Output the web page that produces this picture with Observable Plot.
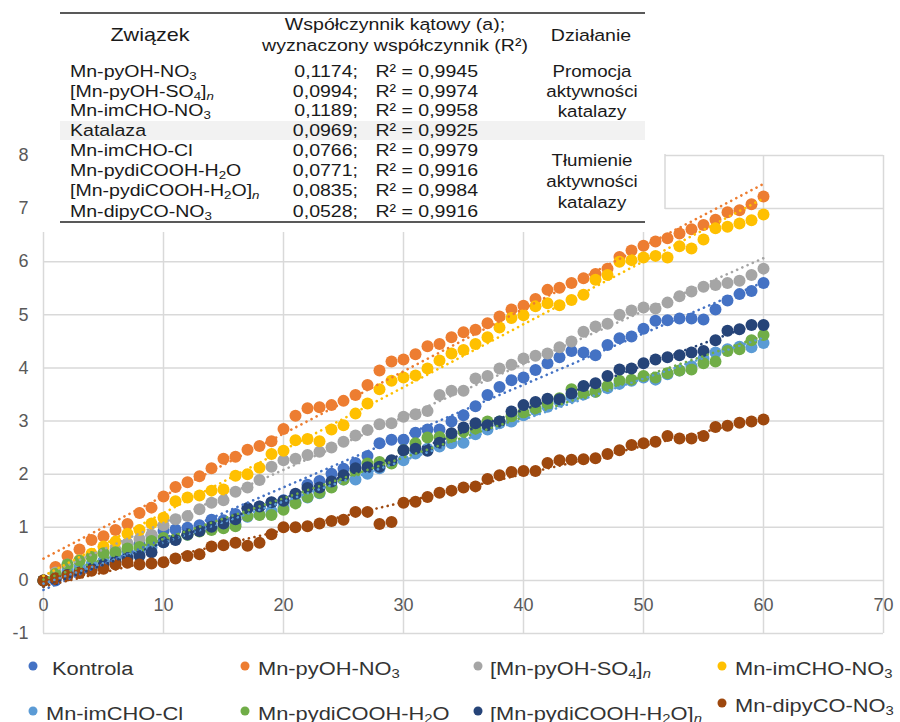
<!DOCTYPE html>
<html><head><meta charset="utf-8">
<script src="https://cdn.jsdelivr.net/npm/d3@7"></script>
<script src="https://cdn.jsdelivr.net/npm/@observablehq/plot@0.6"></script>
<style>
body{margin:0;background:#fff;font-family:"Liberation Sans",Arial,sans-serif;}
#wrap{position:relative;width:900px;height:722px;overflow:hidden;background:#fff;}
#wrap svg{display:block}
#overlay{position:absolute;left:0;top:0;}
</style></head><body><div id="wrap"></div>
<script>
// ---------- data ----------
const times = d3.range(0, 61);
const kontrola = [0,0.0,0.12,0.2,0.28,0.36,0.45,0.55,0.68,0.84,0.93,0.96,0.99,1.04,1.14,1.13,1.25,1.36,1.39,1.46,1.51,1.61,1.8,1.87,2.01,2.1,2.21,2.34,2.58,2.65,2.65,2.78,2.84,2.84,2.99,3.11,3.28,3.49,3.64,3.77,3.82,3.96,4.09,4.2,4.32,4.29,4.24,4.43,4.56,4.59,4.74,4.89,4.9,4.93,4.93,4.91,5.1,5.27,5.39,5.45,5.6];
const pyOHNO3 = [0,0.25,0.46,0.58,0.76,0.83,0.95,1.06,1.27,1.37,1.58,1.76,1.85,1.96,2.11,2.29,2.33,2.46,2.53,2.62,2.85,3.1,3.24,3.26,3.3,3.38,3.49,3.68,3.95,4.12,4.16,4.26,4.41,4.45,4.58,4.67,4.72,4.84,4.97,5.1,5.17,5.3,5.47,5.51,5.6,5.69,5.77,5.87,6.09,6.21,6.3,6.38,6.44,6.53,6.61,6.69,6.79,6.93,6.97,7.08,7.23];
const pyOHSO4 = [0,0.15,0.3,0.38,0.46,0.52,0.58,0.7,0.78,0.86,1.04,1.15,1.21,1.34,1.46,1.51,1.67,1.75,1.89,2.14,2.26,2.29,2.36,2.42,2.5,2.61,2.73,2.83,2.94,2.96,3.08,3.13,3.19,3.49,3.57,3.57,3.8,3.85,3.99,4.06,4.18,4.23,4.27,4.39,4.5,4.68,4.78,4.83,5.0,5.08,5.14,5.12,5.23,5.35,5.44,5.53,5.56,5.6,5.64,5.75,5.87];
const imCHONO3 = [0,0.12,0.25,0.38,0.5,0.64,0.73,0.88,0.95,1.07,1.18,1.49,1.56,1.6,1.69,1.71,1.97,2.0,2.12,2.38,2.44,2.64,2.66,2.62,2.84,2.92,3.14,3.33,3.6,3.76,3.82,3.86,3.99,4.14,4.27,4.34,4.45,4.58,4.76,4.94,4.99,5.16,5.22,5.18,5.28,5.38,5.66,5.75,6.0,6.03,6.08,6.11,6.08,6.29,6.25,6.42,6.63,6.66,6.72,6.78,6.89];
const imCHOCl = [0,0.05,0.18,0.25,0.3,0.36,0.42,0.48,0.55,0.62,0.72,0.77,0.86,0.94,0.98,1.0,1.06,1.2,1.24,1.3,1.38,1.47,1.56,1.64,1.76,1.9,1.9,2.01,2.11,2.21,2.26,2.39,2.48,2.52,2.58,2.59,2.75,2.84,2.96,2.99,3.11,3.21,3.27,3.37,3.45,3.5,3.55,3.62,3.7,3.76,3.82,3.78,3.88,3.95,4.03,4.18,4.29,4.35,4.4,4.39,4.47];
const pydiCOOHH2O = [0,0.12,0.3,0.37,0.44,0.51,0.53,0.6,0.63,0.74,0.8,0.78,0.86,0.92,0.95,0.98,1.02,1.21,1.23,1.23,1.33,1.45,1.57,1.65,1.75,1.9,2.06,2.2,2.23,2.2,2.45,2.58,2.69,2.7,2.7,2.8,2.86,2.99,2.99,3.09,3.16,3.24,3.33,3.43,3.6,3.52,3.55,3.66,3.76,3.78,3.85,3.82,3.9,3.95,3.97,4.09,4.12,4.32,4.35,4.52,4.62];
const pydiCOOHH2On = [0,0.02,0.1,0.15,0.22,0.3,0.35,0.42,0.46,0.53,0.72,0.76,0.87,0.93,1.01,1.07,1.15,1.36,1.39,1.47,1.5,1.63,1.74,1.75,1.86,1.98,2.11,2.13,2.14,2.26,2.45,2.48,2.44,2.59,2.77,2.88,2.96,2.92,2.99,3.18,3.3,3.36,3.42,3.41,3.52,3.66,3.71,3.85,3.97,3.99,4.09,4.16,4.2,4.24,4.29,4.32,4.52,4.7,4.73,4.81,4.81];
const dipyCONO3 = [0,0.04,0.09,0.14,0.18,0.22,0.3,0.33,0.3,0.32,0.34,0.41,0.46,0.49,0.64,0.66,0.71,0.65,0.71,0.87,1.0,1.0,1.02,1.07,1.12,1.14,1.29,1.29,1.06,1.1,1.46,1.48,1.57,1.65,1.69,1.75,1.77,1.91,1.98,2.04,2.06,2.06,2.21,2.26,2.27,2.28,2.3,2.38,2.45,2.55,2.58,2.61,2.72,2.67,2.67,2.72,2.89,2.91,2.97,2.99,3.03];

const seriesNames = ["Kontrola","Mn-pyOH-NO3","[Mn-pyOH-SO4]n","Mn-imCHO-NO3","Mn-imCHO-Cl","Mn-pydiCOOH-H2O","[Mn-pydiCOOH-H2O]n","Mn-dipyCO-NO3"];
const legendLabels = ["Kontrola","Mn-pyOH-NO|_3","[Mn-pyOH-SO|_4|]|~n","Mn-imCHO-NO|_3","Mn-imCHO-Cl","Mn-pydiCOOH-H|_2|O","[Mn-pydiCOOH-H|_2|O]|~n","Mn-dipyCO-NO|_3"];
const seriesColors = ["#4472C4","#ED7D31","#A5A5A5","#FFC000","#5B9BD5","#70AD47","#264478","#9E480E"];
const seriesValues = [kontrola,pyOHNO3,pyOHSO4,imCHONO3,imCHOCl,pydiCOOHH2O,pydiCOOHH2On,dipyCONO3];
const xTicks = [0,10,20,30,40,50,60,70];
const yTicks = [-1,0,1,2,3,4,5,6,7,8];

// table data
const tableHeader = ["Związek","Współczynnik kątowy (a);","wyznaczony współczynnik (R²)","Działanie"];
const tableNames = ["Mn-pyOH-NO|_3","[Mn-pyOH-SO|_4|]|~n","Mn-imCHO-NO|_3","Katalaza","Mn-imCHO-Cl","Mn-pydiCOOH-H|_2|O","[Mn-pydiCOOH-H|_2|O]|~n","Mn-dipyCO-NO|_3"];
const tableSlopes = ["0,1174","0,0994","0,1189","0,0969","0,0766","0,0771","0,0835","0,0528"];
const tableR2 = ["0,9945","0,9974","0,9958","0,9925","0,9979","0,9916","0,9984","0,9916"];
const actionPromo = ["Promocja","aktywności","katalazy"];
const actionSupp = ["Tłumienie","aktywności","katalazy"];

// ---------- build rows ----------
const rows = [];
seriesValues.forEach((vals, i) => vals.forEach((v, j) => rows.push({s: seriesNames[i], x: times[j], y: v})));

const plot = Plot.plot({
  width: 900, height: 650,
  marginLeft: 43, marginRight: 17, marginTop: 155, marginBottom: 17,
  style: {fontFamily: "Liberation Sans, Arial, sans-serif", background: "#fff"},
  x: {domain: [0, 70], axis: null},
  y: {domain: [-1, 8], axis: null},
  color: {domain: seriesNames, range: seriesColors},
  marks: [
    Plot.ruleX(xTicks, {x: d => d, stroke: "#d9d9d9", strokeWidth: 1.5}),
    Plot.ruleY(yTicks, {y: d => d, stroke: "#d9d9d9", strokeWidth: 1.5}),
    Plot.dot(rows, {x: "x", y: "y", fill: "s", r: 6, stroke: null}),
    Plot.linearRegressionY(rows, {x: "x", y: "y", stroke: "s", z: "s", ci: 0, strokeWidth: 2.6, strokeDasharray: "0.1,5.6", strokeLinecap: "round"}),
    Plot.text(xTicks, {x: d => d, y: () => 0, dy: 25, text: d => String(d), fontSize: 18, fill: "#595959"}),
    Plot.text(yTicks, {x: () => 0, y: d => d, dx: -15, textAnchor: "end", text: d => String(d), fontSize: 18, fill: "#595959"})
  ]
});

const wrap = document.getElementById("wrap");
wrap.appendChild(plot);

// ---------- rich text helper ----------
function rich(g, x, y, markup, {fs = 17, sx = 1.15, anchor = "start", fill = "#1a1a1a"} = {}) {
  const t = g.append("text")
    .attr("transform", `translate(${x},${y + fs * 0.35}) scale(${sx},1)`)
    .attr("text-anchor", anchor).attr("font-size", fs).attr("fill", fill)
    .attr("font-family", "Liberation Sans, Arial, sans-serif");
  let shift = 0;
  markup.split("|").forEach(seg => {
    let target = 0, txt = seg, small = false, ital = false;
    if (seg.startsWith("_")) { target = fs * 0.18; txt = seg.slice(1); small = true; }
    else if (seg.startsWith("~")) { target = fs * 0.18; txt = seg.slice(1); small = true; ital = true; }
    const ts = t.append("tspan").text(txt).attr("dy", target - shift);
    if (small) ts.attr("font-size", fs * 0.68);
    if (ital) ts.attr("font-style", "italic");
    shift = target;
  });
  return t;
}

// ---------- table overlay ----------
const ov = d3.select(wrap).append("svg").attr("id", "overlay").attr("width", 900).attr("height", 240);
ov.append("rect").attr("x", 35).attr("y", 0).attr("width", 630).attr("height", 210).attr("fill", "#fff");
ov.append("rect").attr("x", 35).attr("y", 210).attr("width", 611).attr("height", 22).attr("fill", "#fff");
ov.append("line").attr("x1", 665).attr("x2", 665).attr("y1", 154).attr("y2", 209).attr("stroke", "#d9d9d9").attr("stroke-width", 1.5);
ov.append("rect").attr("x", 60).attr("y", 121).attr("width", 585).attr("height", 19).attr("fill", "#f2f2f2");
ov.append("line").attr("x1", 60).attr("x2", 645).attr("y1", 13).attr("y2", 13).attr("stroke", "#222").attr("stroke-width", 1.3);
ov.append("line").attr("x1", 60).attr("x2", 645).attr("y1", 222).attr("y2", 222).attr("stroke", "#222").attr("stroke-width", 1.3);

rich(ov, 150, 35, tableHeader[0], {anchor: "middle", fs: 18, sx: 1.2});
rich(ov, 395, 24, tableHeader[1], {anchor: "middle"});
rich(ov, 395, 45, tableHeader[2], {anchor: "middle"});
rich(ov, 591, 35, tableHeader[3], {anchor: "middle"});
const rowY = [71, 91, 110, 130, 150, 170, 190, 211];
tableNames.forEach((n, i) => {
  rich(ov, 70, rowY[i], n);
  rich(ov, 358, rowY[i], tableSlopes[i] + ";", {anchor: "end"});
  rich(ov, 478, rowY[i], "R² = " + tableR2[i], {anchor: "end"});
});
const promoY = [71, 91, 111], suppY = [160, 181, 202];
actionPromo.forEach((t, i) => rich(ov, 592, promoY[i], t, {anchor: "middle", sx: 1.1}));
actionSupp.forEach((t, i) => rich(ov, 592, suppY[i], t, {anchor: "middle", sx: 1.1}));

// ---------- legend ----------
const lg = d3.select(wrap).append("svg").attr("width", 900).attr("height", 72);
const dotX = [33, 245, 478, 722];
const txtX = [[52, 258, 490, 735], [46, 258, 490, 735]];
const rowLY = [[18, 18, 18, 18], [63, 63, 63, 55]];
seriesNames.forEach((s, i) => {
  const r = Math.floor(i / 4), c = i % 4;
  lg.append("circle").attr("cx", dotX[c]).attr("cy", rowLY[r][c] - 2).attr("r", 4.5).attr("fill", seriesColors[i]);
  rich(lg, txtX[r][c], rowLY[r][c], legendLabels[i], {fs: 19, sx: 1.15, fill: "#333"});
});
</script>
</body></html>
